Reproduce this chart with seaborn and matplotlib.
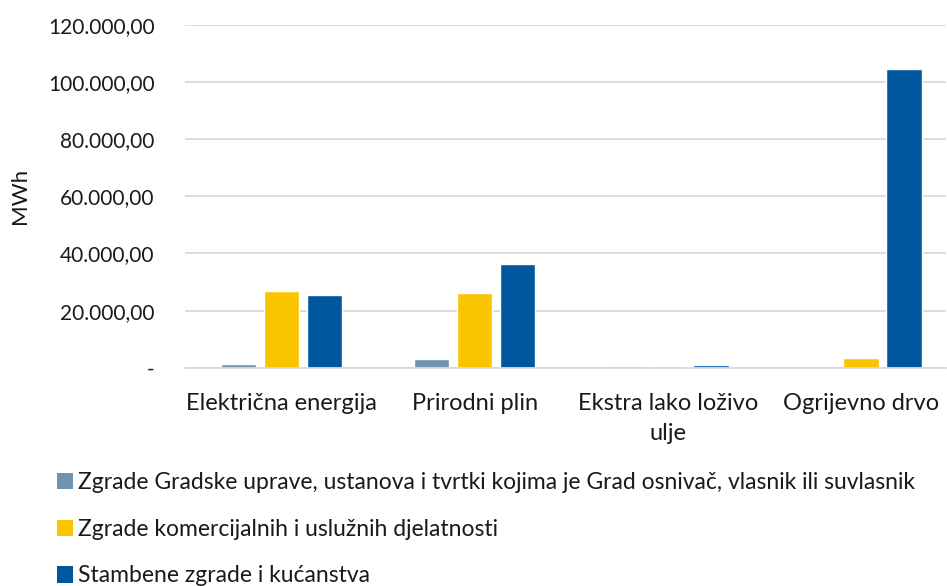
import matplotlib
matplotlib.use("Agg")
import matplotlib.pyplot as plt
import matplotlib.ticker as mticker
from matplotlib.patches import Patch
import seaborn as sns
import pandas as pd

categories = ["Električna energija", "Prirodni plin", "Ekstra lako loživo\nulje", "Ogrijevno drvo"]
series_names = [
    "Zgrade Gradske uprave, ustanova i tvrtki kojima je Grad osnivač, vlasnik ili suvlasnik",
    "Zgrade komercijalnih i uslužnih djelatnosti",
    "Stambene zgrade i kućanstva",
]
gradska = [1300, 3000, 700, 0]
komercijalne = [27000, 26200, 700, 3300]
stambene = [25600, 36400, 900, 104500]
colors = ["#6F93B1", "#F9C400", "#00579E"]
y_ticks = [0, 20000, 40000, 60000, 80000, 100000, 120000]

rows = []
for name, vals in zip(series_names, [gradska, komercijalne, stambene]):
    for c, v in zip(categories, vals):
        rows.append({"cat": c, "series": name, "val": v})
df = pd.DataFrame(rows)

sns.set_theme(style="white")
plt.rcParams["font.family"] = ["Lato", "DejaVu Sans"]

fig = plt.figure(figsize=(9.47, 5.86), dpi=100)
ax = fig.add_axes([185 / 947, 1 - 367.7 / 586, (946 - 185) / 947, (367.7 - 25.1) / 586])

sns.barplot(data=df, x="cat", y="val", hue="series", order=categories, hue_order=series_names,
            palette=colors, width=0.667, gap=0.175, ax=ax, legend=False, saturation=1)

ax.set_xlim(-0.5, 3.44)
ax.set_ylim(0, 120000)
ax.set_yticks(y_ticks)

def fmt(v, pos):
    if v == 0:
        return "-"
    s = f"{v:,.2f}"
    return s.replace(",", "X").replace(".", ",").replace("X", ".")

ax.yaxis.set_major_formatter(mticker.FuncFormatter(fmt))
ax.grid(axis="y", color="#d9d9d9", linewidth=1.3)
ax.set_axisbelow(True)
for s in ["top", "right", "left"]:
    ax.spines[s].set_visible(False)
ax.spines["bottom"].set_color("#d9d9d9")
ax.spines["bottom"].set_linewidth(1.3)
ax.tick_params(axis="y", length=0, pad=22, labelsize=15, labelcolor="#1a1a1a")
ax.tick_params(axis="x", length=0, pad=18, labelsize=17, labelcolor="#1a1a1a")
for lbl in ax.get_xticklabels():
    lbl.set_linespacing(1.55)
ax.set_xlabel("")
ax.set_ylabel("MWh", fontsize=16, color="#1a1a1a")
ax.yaxis.set_label_coords((30 - 185) / 761, 0.5)

handles = [Patch(facecolor=c, edgecolor="none") for c in colors]
fig.legend(handles, series_names, loc="upper left", bbox_to_anchor=(48 / 947, 1 - 463 / 586),
           ncol=1, frameon=False, fontsize=16.5, handlelength=0.7, handleheight=0.7,
           handletextpad=0.2, labelspacing=1.12, borderaxespad=0, labelcolor="#1a1a1a")

fig.savefig("out.png", dpi=100)
